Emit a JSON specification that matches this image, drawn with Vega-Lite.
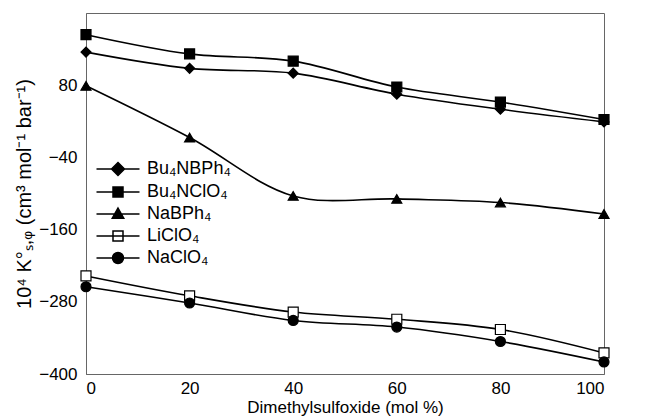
{
  "$schema": "https://vega.github.io/schema/vega-lite/v6.json",
  "width": 518,
  "height": 361,
  "autosize": {"type": "none"},
  "padding": {"left": 86, "top": 13, "right": 56, "bottom": 44},
  "background": "white",
  "config": {
    "view": {"stroke": "#666666", "strokeWidth": 1},
    "font": "Liberation Sans",
    "axis": {"domainColor": "#666666", "labelColor": "black", "titleColor": "black", "titleFontWeight": "normal", "ticks": false, "grid": false, "labelFont": "Liberation Sans", "titleFont": "Liberation Sans"},
    "legend": {"labelColor": "black", "labelFont": "Liberation Sans", "labelFontSize": 18, "padding": 0}
  },
  "data": {"values": [
    {"dmso": 0, "v": 135, "s": "Bu₄NBPh₄"},
    {"dmso": 20, "v": 108, "s": "Bu₄NBPh₄"},
    {"dmso": 40, "v": 100, "s": "Bu₄NBPh₄"},
    {"dmso": 60, "v": 65, "s": "Bu₄NBPh₄"},
    {"dmso": 80, "v": 40, "s": "Bu₄NBPh₄"},
    {"dmso": 100, "v": 19, "s": "Bu₄NBPh₄"},
    {"dmso": 0, "v": 164, "s": "Bu₄NClO₄"},
    {"dmso": 20, "v": 132, "s": "Bu₄NClO₄"},
    {"dmso": 40, "v": 120, "s": "Bu₄NClO₄"},
    {"dmso": 60, "v": 77, "s": "Bu₄NClO₄"},
    {"dmso": 80, "v": 52, "s": "Bu₄NClO₄"},
    {"dmso": 100, "v": 23, "s": "Bu₄NClO₄"},
    {"dmso": 0, "v": 79, "s": "NaBPh₄"},
    {"dmso": 20, "v": -7, "s": "NaBPh₄"},
    {"dmso": 40, "v": -104, "s": "NaBPh₄"},
    {"dmso": 60, "v": -109, "s": "NaBPh₄"},
    {"dmso": 80, "v": -115, "s": "NaBPh₄"},
    {"dmso": 100, "v": -134, "s": "NaBPh₄"},
    {"dmso": 0, "v": -237, "s": "LiClO₄"},
    {"dmso": 20, "v": -270, "s": "LiClO₄"},
    {"dmso": 40, "v": -297, "s": "LiClO₄"},
    {"dmso": 60, "v": -309, "s": "LiClO₄"},
    {"dmso": 80, "v": -326, "s": "LiClO₄"},
    {"dmso": 100, "v": -365, "s": "LiClO₄"},
    {"dmso": 0, "v": -255, "s": "NaClO₄"},
    {"dmso": 20, "v": -282, "s": "NaClO₄"},
    {"dmso": 40, "v": -311, "s": "NaClO₄"},
    {"dmso": 60, "v": -322, "s": "NaClO₄"},
    {"dmso": 80, "v": -346, "s": "NaClO₄"},
    {"dmso": 100, "v": -380, "s": "NaClO₄"}
  ]},
  "encoding": {
    "x": {"field": "dmso", "type": "quantitative", "scale": {"domain": [0, 100], "nice": false}, "axis": {"values": [0, 20, 40, 60, 80, 100], "title": "Dimethylsulfoxide (mol %)", "labelFontSize": 17, "titleFontSize": 17, "labelPadding": 6, "titlePadding": 3}},
    "y": {"field": "v", "type": "quantitative", "scale": {"domain": [-400, 200], "nice": false}, "axis": {"values": [-400, -280, -160, -40, 80], "title": "10⁴ K°ₛ,ᵩ (cm³ mol⁻¹ bar⁻¹)", "labelFontSize": 17, "titleFontSize": 20, "labelPadding": 9, "titlePadding": 4}}
  },
  "layer": [
    {
      "mark": {"type": "line", "interpolate": "catmull-rom", "color": "black", "strokeWidth": 1.6},
      "encoding": {"detail": {"field": "s"}}
    },
    {
      "mark": {"type": "point", "stroke": "black", "strokeWidth": 1.2, "opacity": 1, "filled": false},
      "encoding": {
        "shape": {"field": "s", "type": "nominal", "scale": {"domain": ["Bu₄NBPh₄", "Bu₄NClO₄", "NaBPh₄", "LiClO₄", "NaClO₄"], "range": ["diamond", "square", "triangle-up", "square", "circle"]}, "legend": null},
        "fill": {"field": "s", "type": "nominal", "scale": {"domain": ["Bu₄NBPh₄", "Bu₄NClO₄", "NaBPh₄", "LiClO₄", "NaClO₄"], "range": ["black", "black", "black", "white", "black"]}, "legend": null},
        "size": {"value": 100}
      }
    },
    {
      "mark": {"type": "point", "opacity": 1, "filled": true, "stroke": "black", "strokeWidth": 1.6},
      "encoding": {
        "shape": {"field": "s", "type": "nominal", "scale": {"domain": ["Bu₄NBPh₄", "Bu₄NClO₄", "NaBPh₄", "LiClO₄", "NaClO₄"], "range": [
          "M-4.3,0L4.3,0M0,-1.3L1.3,0L0,1.3L-1.3,0Z",
          "M-4.3,0L4.3,0M-1,-1L1,-1L1,1L-1,1Z",
          "M-4.3,0L4.3,0M0,-1.2L1.15,0.85L-1.15,0.85Z",
          "M-4.3,0L4.3,0M-1,-1L1,-1L1,1L-1,1Z",
          "M-4.3,0L4.3,0M1.1,0A1.1,1.1,0,1,1,-1.1,0A1.1,1.1,0,1,1,1.1,0Z"
        ]}, "legend": {"title": null, "orient": "none", "legendX": 23, "legendY": 147, "symbolSize": 100, "labelOffset": 20, "rowPadding": 4, "encode": {"symbols": {"update": {"opacity": {"value": 1}, "fillOpacity": {"value": 1}}}}}},
        "fill": {"field": "s", "type": "nominal", "scale": {"domain": ["Bu₄NBPh₄", "Bu₄NClO₄", "NaBPh₄", "LiClO₄", "NaClO₄"], "range": ["black", "black", "black", "white", "black"]}, "legend": {"title": null, "orient": "none", "legendX": 23, "legendY": 147, "symbolSize": 100, "labelOffset": 20, "rowPadding": 4, "encode": {"symbols": {"update": {"opacity": {"value": 1}, "fillOpacity": {"value": 1}}}}}},
        "size": {"value": 0}
      }
    }
  ],
  "resolve": {"scale": {"shape": "independent", "fill": "independent"}}
}
